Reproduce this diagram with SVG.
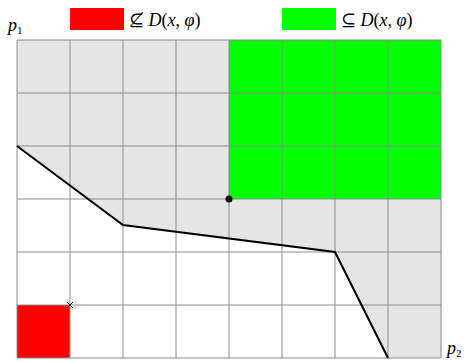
<svg xmlns="http://www.w3.org/2000/svg" width="465" height="362" viewBox="0 0 465 362">
<style>
.grid{stroke:#8c8c8c;stroke-width:1;fill:none}
.math{font-family:"Liberation Serif","DejaVu Serif",serif;font-size:18px;fill:#000}
.it{font-style:italic}
.sub{font-size:11px}
</style>
<rect width="465" height="362" fill="#fff"/>
<g id="region">
<polygon points="17,40 441,40 441,358 388,358 335,252 123,225 17,146" fill="#e5e5e5"/>
<rect x="229" y="40" width="212" height="159" fill="#00ff00"/>
<rect x="17" y="305" width="53" height="53" fill="#ff0000"/>
</g>
<g id="grid" class="grid">
<path d="M17,40V358M70,40V358M123,40V358M176,40V358M229,40V358M282,40V358M335,40V358M388,40V358M441,40V358"/>
<path d="M17,40H441M17,93H441M17,146H441M17,199H441M17,252H441M17,305H441M17,358H441"/>
</g>
<g id="connectors">
<polyline points="17,146 123,225 335,252 388,358" fill="none" stroke="#000" stroke-width="2"/>
</g>
<g id="dot"><circle cx="229" cy="199" r="3.5" fill="#000"/></g>
<g id="cross" stroke="#000" stroke-width="1"><path d="M67,302L73,308M73,302L67,308"/></g>
<g id="legend-red">
<rect x="70" y="8" width="54" height="22" fill="#ff0000"/>
<text class="math" x="129" y="26">⊈ <tspan class="it">D</tspan>(<tspan class="it">x</tspan>, <tspan class="it">φ</tspan>)</text>
</g>
<g id="legend-green">
<rect x="282" y="8" width="54" height="22" fill="#00ff00"/>
<text class="math" x="341" y="26">⊆ <tspan class="it">D</tspan>(<tspan class="it">x</tspan>, <tspan class="it">φ</tspan>)</text>
</g>
<g id="labels">
<text class="math it" x="8" y="31" font-size="15">p<tspan class="sub" font-style="normal" dy="3">1</tspan></text>
<text class="math it" x="447" y="354" font-size="15">p<tspan class="sub" font-style="normal" dy="3">2</tspan></text>
</g>
</svg>
